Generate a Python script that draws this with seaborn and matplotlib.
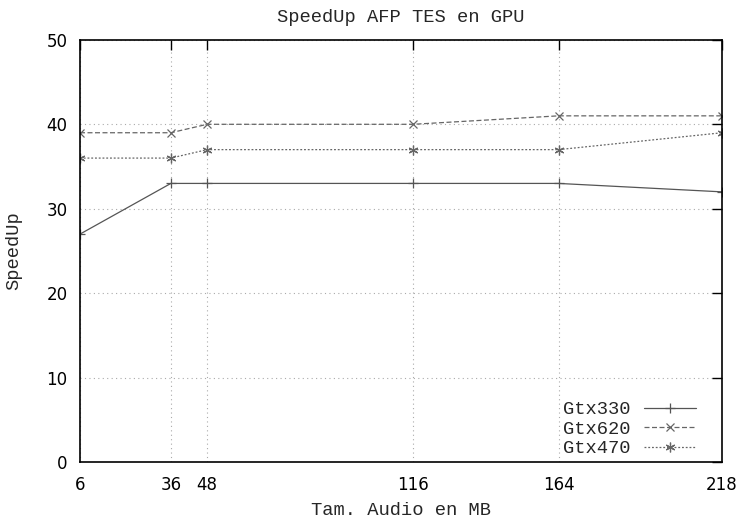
import matplotlib
matplotlib.use("Agg")
import matplotlib.pyplot as plt
import seaborn as sns
import pandas as pd

sizes = [6, 36, 48, 116, 164, 218]
gtx330 = [27, 33, 33, 33, 33, 32]
gtx620 = [39, 39, 40, 40, 41, 41]
gtx470 = [36, 36, 37, 37, 37, 39]
series_names = ["Gtx330", "Gtx620", "Gtx470"]
y_ticks = [0, 10, 20, 30, 40, 50]

df = pd.DataFrame({
    "size": sizes * 3,
    "speedup": gtx330 + gtx620 + gtx470,
    "gpu": [series_names[0]] * 6 + [series_names[1]] * 6 + [series_names[2]] * 6,
})

sns.set_theme(style="white")
plt.rcParams["font.family"] = ["Liberation Mono", "DejaVu Sans Mono"]
mono = ["Liberation Mono", "DejaVu Sans Mono"]

fig = plt.figure(figsize=(7.38, 5.24), dpi=100)
ax = fig.add_axes([0.1084, 0.118, 0.870, 0.806])

styles = {
    "Gtx330": dict(ls="-", marker="+", color="#555555", ms=7),
    "Gtx620": dict(ls=(0, (4, 2)), marker="x", color="#666666", ms=6),
    "Gtx470": dict(ls=(0, (1.5, 1.5)), marker=(6, 2, 0), color="#666666", ms=7),
}
for name in series_names:
    sub = df[df["gpu"] == name]
    st = styles[name]
    sns.lineplot(data=sub, x="size", y="speedup", ax=ax, label=name,
                 color=st["color"], linestyle=st["ls"], marker=st["marker"],
                 markersize=st["ms"], linewidth=0.9, markeredgewidth=0.9,
                 markeredgecolor=st["color"])

ax.set_xlim(6, 218)
ax.set_ylim(0, 50)
ax.set_xticks(sizes)
ax.set_yticks(y_ticks)
ax.tick_params(direction="in", length=7, width=1, top=True, right=True,
               labelsize=12, colors="black")
ax.tick_params(axis="x", pad=10)
ax.tick_params(axis="y", pad=9)
for lbl in ax.get_xticklabels() + ax.get_yticklabels():
    lbl.set_fontfamily("DejaVu Sans")
ax.grid(True, linestyle=(0, (1, 3)), color="#aaaaaa", linewidth=0.8)
for s in ax.spines.values():
    s.set_color("black")
    s.set_linewidth(1.2)

ax.set_title("SpeedUp AFP TES en GPU", fontsize=13.5, pad=13, family=mono)
ax.set_xlabel("Tam. Audio en MB", fontsize=13.5, labelpad=6, family=mono)
ax.set_ylabel("SpeedUp", fontsize=13.5, family=mono)
ax.yaxis.set_label_coords(-0.090, 0.5)

leg = ax.legend(loc="lower right", bbox_to_anchor=(0.9595, 0.012),
                frameon=False, markerfirst=False, prop={"family": mono, "size": 13.5},
                handlelength=2.8, labelspacing=0.12, borderaxespad=0,
                borderpad=0, handletextpad=0.7)

fig.savefig("out.png", dpi=100)
